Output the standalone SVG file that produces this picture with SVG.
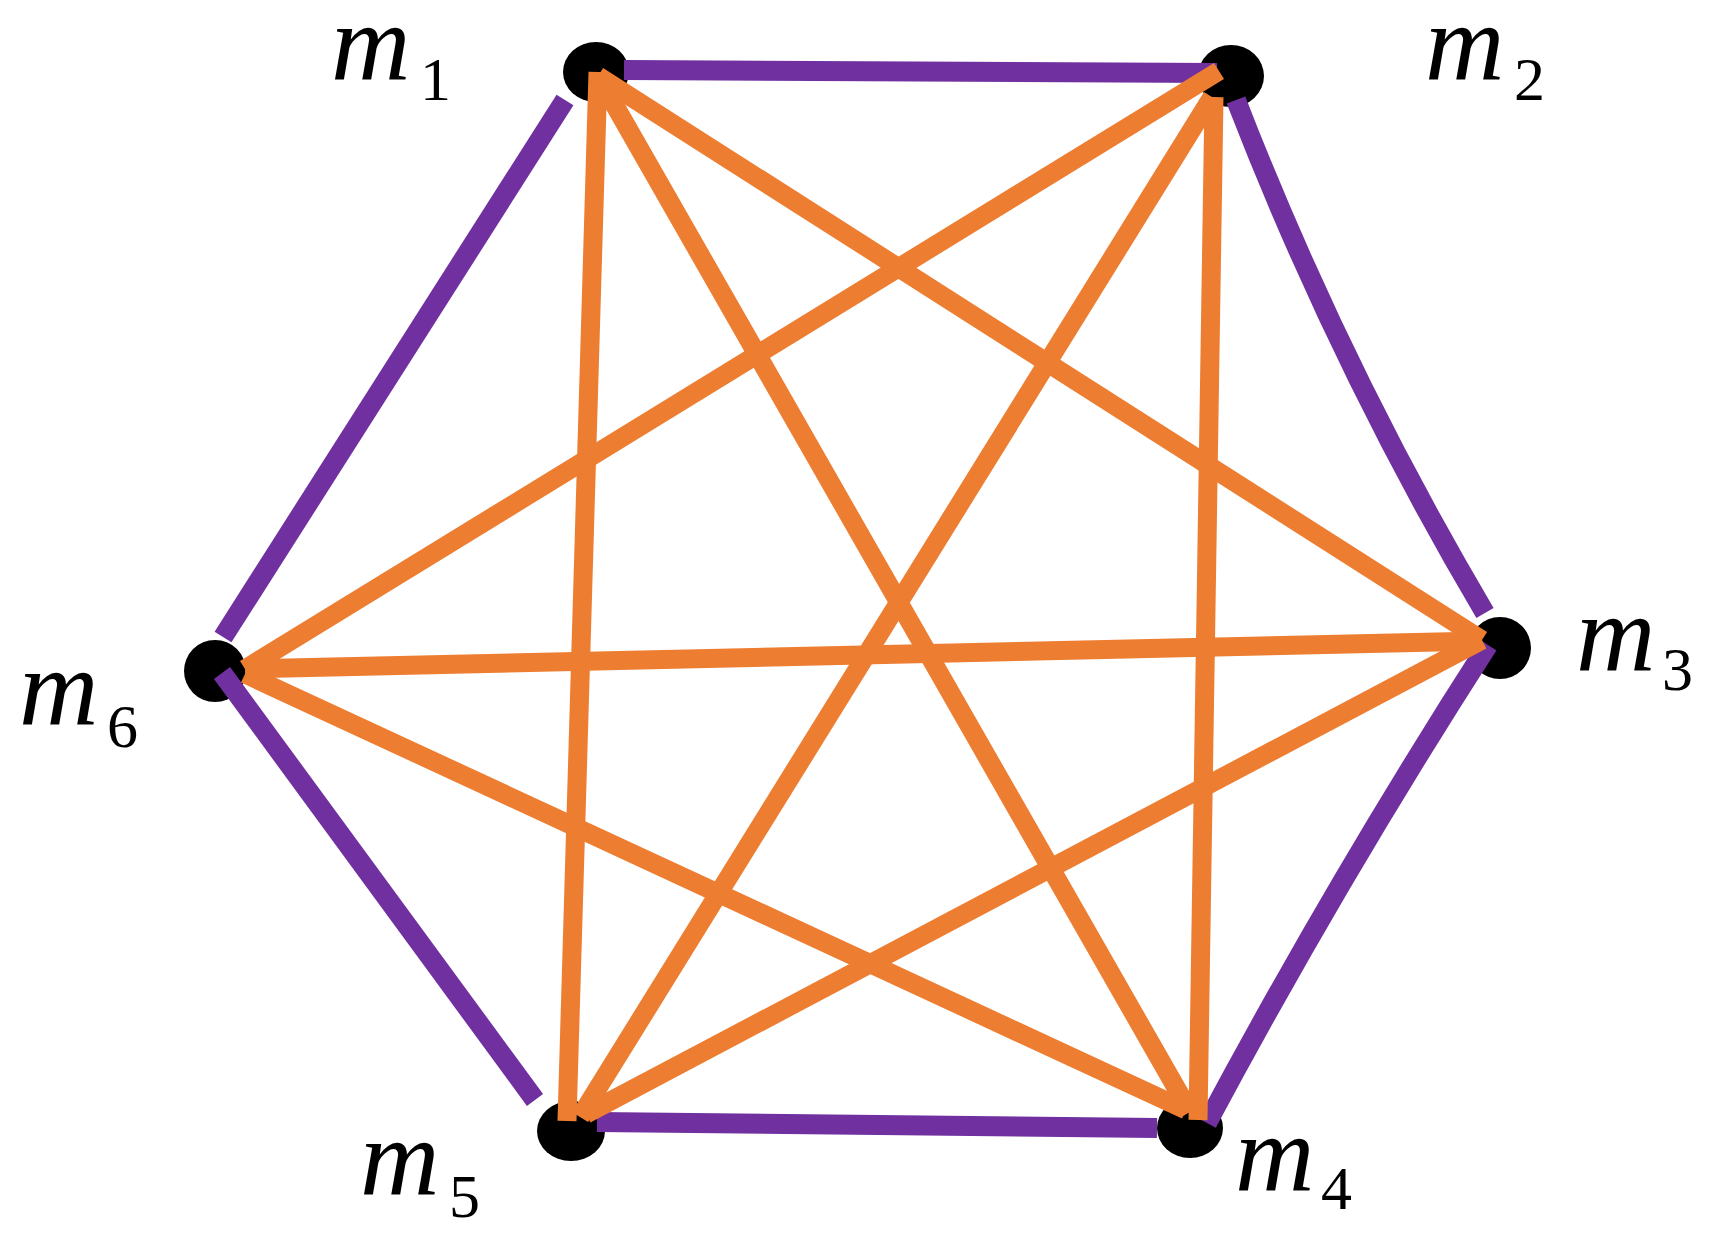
<svg xmlns="http://www.w3.org/2000/svg" width="1712" height="1245" viewBox="0 0 1712 1245">
<style>
.node{fill:#000}
.lbl{font-family:"Liberation Serif","DejaVu Serif",serif;fill:#000}
.m{font-style:italic;font-size:110px}
.s{font-size:62px}
.p{stroke:#7030A0;stroke-width:20;fill:none;stroke-linecap:butt}
.o{stroke:#ED7D31;stroke-width:19;fill:none;stroke-linecap:butt}
</style>
<rect width="1712" height="1245" fill="#fff"/>
<g id="m1"><ellipse class="node" cx="596" cy="72" rx="33" ry="30"/><text class="lbl"><tspan class="m" x="331" y="80">m</tspan><tspan class="s" x="420" y="100">1</tspan></text></g>
<g id="m2"><ellipse class="node" cx="1231" cy="76" rx="33" ry="31"/><text class="lbl"><tspan class="m" x="1425" y="80">m</tspan><tspan class="s" x="1514" y="100">2</tspan></text></g>
<g id="m3"><ellipse class="node" cx="1500" cy="648" rx="31" ry="31"/><text class="lbl"><tspan class="m" x="1576" y="671">m</tspan><tspan class="s" x="1662" y="690">3</tspan></text></g>
<g id="m4"><ellipse class="node" cx="1190" cy="1128" rx="33" ry="30"/><text class="lbl"><tspan class="m" x="1235" y="1191">m</tspan><tspan class="s" x="1321" y="1209">4</tspan></text></g>
<g id="m5"><ellipse class="node" cx="571" cy="1131" rx="34" ry="30"/><text class="lbl"><tspan class="m" x="360" y="1195">m</tspan><tspan class="s" x="449" y="1217">5</tspan></text></g>
<g id="m6"><ellipse class="node" cx="215" cy="671" rx="31" ry="31"/><text class="lbl"><tspan class="m" x="19" y="725">m</tspan><tspan class="s" x="107" y="747">6</tspan></text></g>
<g id="connectors">
<line class="p" x1="624" y1="70" x2="1217" y2="73"/>
<path class="p" d="M1236,100 Q1339,366 1485,613"/>
<path class="p" d="M1488,645 Q1338,878 1207,1123"/>
<line class="p" x1="597" y1="1122" x2="1157" y2="1128"/>
<line class="p" x1="535" y1="1100" x2="222" y2="673"/>
<line class="p" x1="565" y1="100" x2="223" y2="637"/>
<line class="o" x1="598" y1="72" x2="567" y2="1121"/>
<line class="o" x1="598" y1="76" x2="1190" y2="1112"/>
<line class="o" x1="598" y1="76" x2="1482" y2="640"/>
<line class="o" x1="1219" y1="71" x2="245" y2="669"/>
<line class="o" x1="1212" y1="97" x2="580" y2="1117"/>
<line class="o" x1="1214" y1="97" x2="1198" y2="1120"/>
<line class="o" x1="1482" y1="641" x2="245" y2="669"/>
<line class="o" x1="1482" y1="640" x2="586" y2="1114"/>
<line class="o" x1="1186" y1="1110" x2="245" y2="674"/>
</g>
</svg>
